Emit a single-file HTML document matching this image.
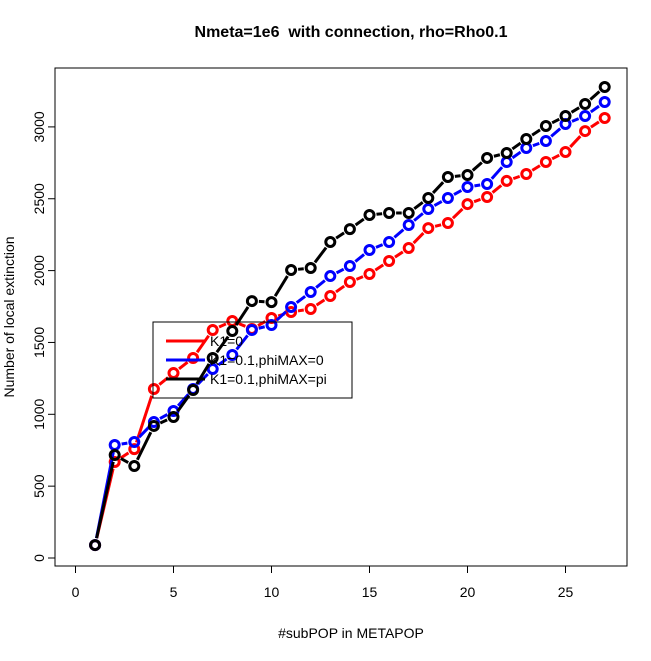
<!DOCTYPE html>
<html><head><meta charset="utf-8"><style>
body{margin:0;background:#fff}
text{font-family:"Liberation Sans",sans-serif}
</style></head><body>
<svg id="chart" width="651" height="656" xmlns="http://www.w3.org/2000/svg">
<rect width="651" height="656" fill="#fff"/>
<text x="351" y="37" text-anchor="middle" font-size="16" font-weight="bold">Nmeta=1e6&#160; with connection, rho=Rho0.1</text>
<rect x="55" y="68" width="572" height="498" fill="none" stroke="#000"/>
<text x="351" y="638" text-anchor="middle" font-size="14">#subPOP in METAPOP</text>
<text transform="translate(14,317) rotate(-90)" text-anchor="middle" font-size="14">Number of local extinction</text>
<g id="axes"></g>
<g id="series"></g>
<g>
<rect x="153" y="322" width="199" height="76" fill="none" stroke="#000"/>
<line x1="166" y1="341" x2="205" y2="341" stroke="red" stroke-width="3"/>
<text x="210" y="346" font-size="14">K1=0</text>
<line x1="166" y1="360" x2="205" y2="360" stroke="blue" stroke-width="3"/>
<text x="210" y="365" font-size="14">K1=0.1,phiMAX=0</text>
<line x1="166" y1="379" x2="205" y2="379" stroke="#000" stroke-width="3"/>
<text x="210" y="384" font-size="14">K1=0.1,phiMAX=pi</text>
</g>
</svg>
<script>
const xs = [1,2,3,4,5,6,7,8,9,10,11,12,13,14,15,16,17,18,19,20,21,22,23,24,25,26,27];
const redVals = [90,668,758,1176,1287,1392,1587,1649,1594,1670,1712,1733,1823,1921,1976,2067,2157,2296,2331,2463,2512,2624,2672,2756,2825,2971,3062];
const blueVals = [90,786,807,946,1023,1176,1315,1413,1587,1621,1747,1851,1962,2032,2143,2199,2317,2429,2505,2582,2603,2756,2853,2902,3020,3076,3173];
const blackVals = [90,717,640,919,981,1169,1392,1580,1788,1781,2004,2018,2199,2289,2387,2401,2401,2505,2651,2665,2784,2818,2916,3006,3076,3159,3278];
const xTicks = [0,5,10,15,20,25];
const yTicks = [0,500,1000,1500,2000,2500,3000];
const NS="http://www.w3.org/2000/svg";
const X=v=>75.5+v*19.6, Y=v=>558-v*0.1437;
function mk(t,a,p){const e=document.createElementNS(NS,t);for(const k in a)e.setAttribute(k,a[k]);p.appendChild(e);return e;}
const ax=document.getElementById('axes');
mk('line',{x1:X(0),x2:X(25),y1:566,y2:566,stroke:'#000'},ax);
xTicks.forEach(t=>{mk('line',{x1:X(t),x2:X(t),y1:566,y2:573,stroke:'#000'},ax);
const tx=mk('text',{x:X(t),y:597,'text-anchor':'middle','font-size':14},ax);tx.textContent=t;

});
mk('line',{x1:55,x2:55,y1:Y(0),y2:Y(3000),stroke:'#000'},ax);
yTicks.forEach(t=>{mk('line',{x1:48,x2:55,y1:Y(t),y2:Y(t),stroke:'#000'},ax);
const tx=mk('text',{transform:`translate(44,${Y(t)}) rotate(-90)`,'text-anchor':'middle','font-size':14},ax);tx.textContent=t;

});
const sg=document.getElementById('series');
[[redVals,'red','red'],[blueVals,'blue','blue'],[blackVals,'#000','black']].forEach(([vals,c,n])=>{
const g=mk('g',{},sg);


for(let i=0;i<vals.length-1;i++){const x1=X(xs[i]),y1=Y(vals[i]),x2=X(xs[i+1]),y2=Y(vals[i+1]);
const dx=x2-x1,dy=y2-y1,L=Math.hypot(dx,dy),g0=7;if(L>2*g0){const ux=dx/L,uy=dy/L;
mk('line',{x1:x1+ux*g0,y1:y1+uy*g0,x2:x2-ux*g0,y2:y2-uy*g0,stroke:c,'stroke-width':3},g);}}
vals.forEach((v,i)=>{const p=mk('circle',{cx:X(xs[i]),cy:Y(v),r:4.5,fill:'none',stroke:c,'stroke-width':3},g);

});
});
</script>
</body></html>
